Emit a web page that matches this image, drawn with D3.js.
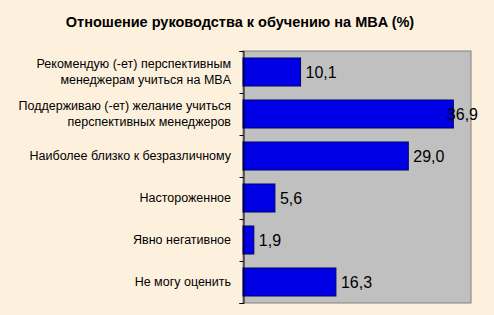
<!DOCTYPE html>
<html>
<head>
<meta charset="utf-8">
<script src="https://cdn.jsdelivr.net/npm/d3@7"></script>
<style>
  html, body { margin: 0; padding: 0; background: #fdf1de; }
  svg { display: block; font-family: "Liberation Sans", Arial, sans-serif; }
</style>
</head>
<body>
<svg id="chart" width="494" height="315"></svg>
<script>
// data
var title = "Отношение руководства к обучению на MBA (%)";
var categories = [
  ["Рекомендую (-ет) перспективным", "менеджерам учиться на MBA"],
  ["Поддерживаю (-ет) желание учиться", "перспективных менеджеров"],
  ["Наиболее близко к безразличному"],
  ["Настороженное"],
  ["Явно негативное"],
  ["Не могу оценить"]
];
var values = [10.1, 36.9, 29.0, 5.6, 1.9, 16.3];
var valueLabels = ["10,1", "36,9", "29,0", "5,6", "1,9", "16,3"];

var svg = d3.select("#chart"),
    width = +svg.attr("width"),
    height = +svg.attr("height");

// plot box (window.top is reserved, so use other names)
var plotL = 243, plotR = 471, plotT = 51, plotB = 303;

var x = d3.scaleLinear().domain([0, 40]).range([plotL, plotR]);
var y = d3.scaleBand()
    .domain(d3.range(values.length))
    .range([plotT, plotB])
    .paddingInner(1 / 3)
    .paddingOuter(1 / 6);

// plot area
svg.append("rect")
    .attr("x", plotL).attr("y", plotT)
    .attr("width", plotR - plotL).attr("height", plotB - plotT)
    .attr("fill", "#c0c0c0")
    .attr("stroke", "#808080")
    .attr("stroke-width", 1);

// bars
svg.append("g").selectAll("rect")
    .data(values)
    .enter().append("rect")
    .attr("x", x(0))
    .attr("y", function(d, i) { return y(i); })
    .attr("width", function(d) { return x(d) - x(0); })
    .attr("height", y.bandwidth())
    .attr("fill", "#0000e6")
    .attr("stroke", "#000066")
    .attr("stroke-width", 1);

// value labels, pushed back left when they would run off the chart
svg.append("g").selectAll("text")
    .data(values)
    .enter().append("text")
    .attr("y", function(d, i) { return y(i) + y.bandwidth() / 2; })
    .attr("dy", "0.36em")
    .attr("font-size", "16px")
    .attr("fill", "#000")
    .text(function(d, i) { return valueLabels[i]; })
    .attr("x", function(d) {
      var w = this.getComputedTextLength();
      return Math.min(x(d) + 5, 478 - w);
    });

// category axis
var yAxis = d3.axisLeft(d3.scaleLinear().domain([0, values.length]).range([plotT, plotB]))
    .ticks(values.length)
    .tickSize(4)
    .tickSizeOuter(4)
    .tickFormat("");
var ax = svg.append("g")
    .attr("transform", "translate(" + (plotL + 0.5) + ",0)")
    .call(yAxis);
ax.select(".domain").attr("stroke", "#000");
ax.selectAll(".tick line").attr("stroke", "#000");

// category labels
var lab = svg.append("g").selectAll("text")
    .data(categories)
    .enter().append("text")
    .attr("text-anchor", "end")
    .attr("font-size", "12.5px")
    .attr("fill", "#000")
    .attr("y", function(d, i) { return y(i) + y.bandwidth() / 2; });
lab.each(function(d) {
  var t = d3.select(this);
  var lineH = 16;
  d.forEach(function(line, j) {
    t.append("tspan")
      .attr("x", 231)
      .attr("dy", j === 0 ? ((-(d.length - 1) * lineH / 2) + 4.4) : lineH)
      .text(line);
  });
});

// title
svg.append("text")
    .attr("x", 240)
    .attr("y", 27)
    .attr("text-anchor", "middle")
    .attr("font-size", "14.5px")
    .attr("font-weight", "bold")
    .attr("fill", "#000")
    .text(title);
</script>
</body>
</html>
